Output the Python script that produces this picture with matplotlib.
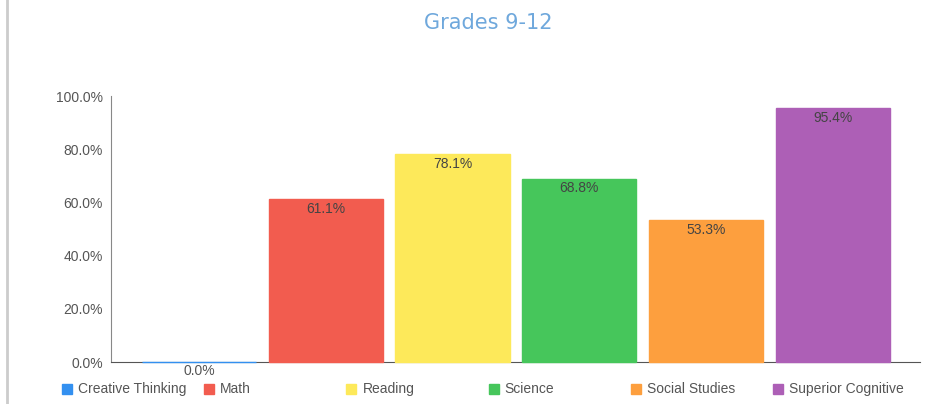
import matplotlib
matplotlib.use("Agg")
import matplotlib.pyplot as plt
from matplotlib.patches import Rectangle
from matplotlib.lines import Line2D

categories = ["Creative Thinking", "Math", "Reading", "Science", "Social Studies", "Superior Cognitive"]
values = [0.0, 61.1, 78.1, 68.8, 53.3, 95.4]
colors = ["#3390f0", "#f25c4f", "#fde95a", "#46c65b", "#fd9f3e", "#ad5fb6"]
yticks = [0, 20, 40, 60, 80, 100]
title = "Grades 9-12"

plt.rcParams["font.family"] = ["Liberation Sans", "DejaVu Sans"]
FS = 10

W, H = 930, 404
fig = plt.figure(figsize=(W / 100, H / 100), dpi=100)
ax = fig.add_axes([111 / W, 1 - 362 / H, (920 - 111) / W, (362 - 96) / H])

x = list(range(len(categories)))
ax.bar(x, values, width=0.9, color=colors, edgecolor=colors, linewidth=1.0, zorder=3,
       clip_on=False)
ax.set_xlim(-0.694, 5.688)
ax.set_ylim(0, 100)
ax.set_yticks(yticks)
ax.set_yticklabels([f"{t:.1f}%" for t in yticks], fontsize=FS, color="#555555")
ax.set_xticks([])
ax.tick_params(axis="y", length=0, pad=6)
for s in ["top", "right"]:
    ax.spines[s].set_visible(False)
ax.spines["left"].set_color("#888888")
ax.spines["bottom"].set_color("#555555")

for xi, v in zip(x, values):
    if v > 5:
        ax.text(xi, v - 0.9, f"{v:.1f}%", ha="center", va="top", fontsize=FS, color="#444444",
                zorder=4)
    else:
        ax.text(xi, -0.6, f"{v:.1f}%", ha="center", va="top", fontsize=FS, color="#555555",
                zorder=4)

fig.text(488 / W, 1 - 23 / H, title, ha="center", va="center", fontsize=15, color="#6fa8dc",
         family="DejaVu Sans")

# legend
leg_x0, leg_dx, leg_y = 62, 142.2, 389
for i, (c, col) in enumerate(zip(categories, colors)):
    lx = leg_x0 + i * leg_dx
    fig.patches.append(Rectangle(((lx) / W, 1 - (leg_y + 5) / H), 10 / W, 10 / H,
                                 transform=fig.transFigure, color=col, figure=fig))
    fig.text((lx + 16) / W, 1 - leg_y / H, c, ha="left", va="center", fontsize=FS, color="#555555")

# left border line
fig.add_artist(Line2D([7 / W, 7 / W], [0, 1], transform=fig.transFigure, color="#cccccc", lw=2))

fig.savefig("out.png", dpi=100)
